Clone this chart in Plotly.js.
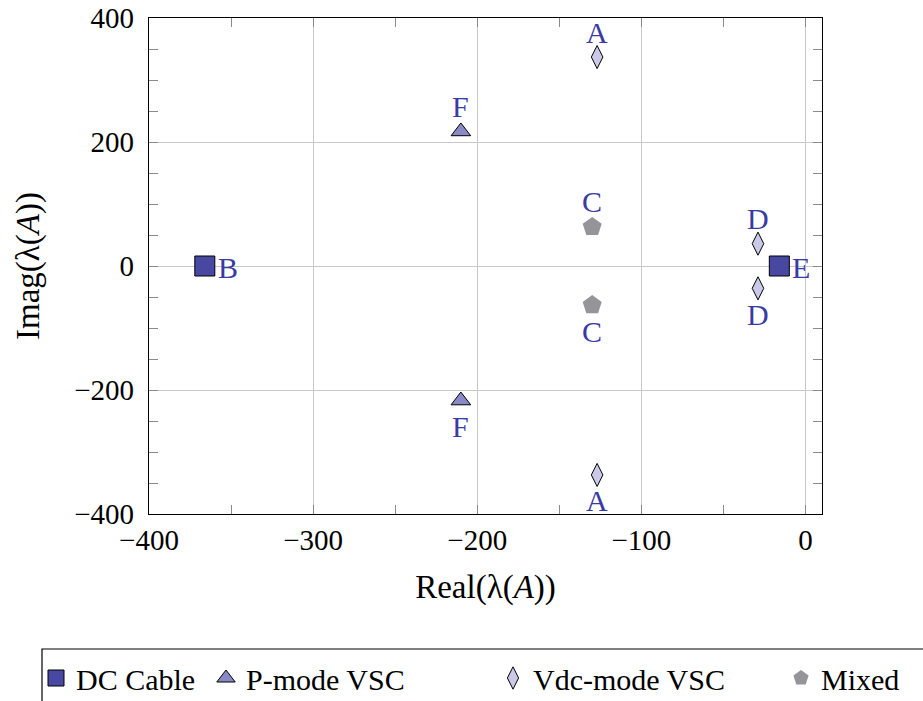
<!DOCTYPE html>
<html>
<head>
<meta charset="utf-8">
<script src="https://cdn.plot.ly/plotly-3.0.1.min.js"></script>
<style>html,body{margin:0;padding:0;background:#fff;}#chart{width:923px;height:701px;}</style>
</head>
<body>
<div id="chart"></div>
<script>
// Eigenvalue data
var cableRe = [-366, -16];
var cableIm = [0, 0];
var cableLbl = ['B', 'E'];

var pmodeRe = [-210, -210];
var pmodeIm = [217, -217];
var pmodeLbl = ['F', 'F'];

var vdcRe = [-127, -127, -29, -29];
var vdcIm = [337, -337, 36, -36];
var vdcLbl = ['A', 'A', 'D', 'D'];

var mixedRe = [-130, -130];
var mixedIm = [63, -63];
var mixedLbl = ['C', 'C'];

var seriesNames = ['DC Cable', 'P-mode VSC', 'Vdc-mode VSC', 'Mixed'];
var xTicks = [-400, -300, -200, -100, 0];
var yTicks = [-400, -200, 0, 200, 400];

var FONT = '"Liberation Serif", "DejaVu Serif", serif';
var LBL = '#3a3aa6';

var traces = [
  {x: cableRe, y: cableIm, mode: 'markers', type: 'scatter', name: seriesNames[0], legend: 'legend',
   marker: {symbol: 'square', size: 20, color: '#4848a2', line: {color: '#000', width: 1}}},
  {x: pmodeRe, y: pmodeIm, mode: 'markers', type: 'scatter', name: seriesNames[1], legend: 'legend2',
   marker: {symbol: 'triangle-up', size: 17, color: '#8989c6', line: {color: '#000', width: 1}}},
  {x: vdcRe, y: vdcIm, mode: 'markers', type: 'scatter', name: seriesNames[2], legend: 'legend3',
   marker: {symbol: 'diamond-tall', size: 16.5, color: '#cacae8', line: {color: '#000', width: 1}}},
  {x: mixedRe, y: mixedIm, mode: 'markers', type: 'scatter', name: seriesNames[3], legend: 'legend4',
   marker: {symbol: 'pentagon', size: 20, color: '#959599', line: {width: 0}}}
];

// point labels as annotations attached to the data points
var annotations = [];
function addLabels(xs, ys, ts, side) {
  for (var i = 0; i < xs.length; i++) {
    var a = {x: xs[i], y: ys[i], xref: 'x', yref: 'y', text: ts[i], showarrow: false,
      font: {family: FONT, size: 30, color: LBL}};
    if (side === 'right') {
      a.xanchor = 'left'; a.yanchor = 'middle'; a.xshift = 11; a.yshift = -1;
    } else {
      a.xanchor = 'center'; a.yanchor = 'middle';
      a.yshift = ys[i] >= 0 ? 25 : -26;
    }
    annotations.push(a);
  }
}
addLabels(cableRe, cableIm, cableLbl, 'right');
addLabels(pmodeRe, pmodeIm, pmodeLbl, 'vert');
addLabels(vdcRe, vdcIm, vdcLbl, 'vert');
addLabels(mixedRe, mixedIm, mixedLbl, 'vert');

function minus(v) { return v < 0 ? '\u2212' + Math.abs(v) : String(v); }

var axisCommon = {
  showline: true, linecolor: '#000', linewidth: 1.2, mirror: 'ticks',
  showgrid: true, gridcolor: '#c8c8c8', gridwidth: 1,
  zeroline: false,
  ticks: 'inside', ticklen: 9, tickcolor: '#8a8a8a', tickwidth: 1,
  minor: {dtick: 50, ticks: 'inside', ticklen: 9, tickcolor: '#8a8a8a', tickwidth: 1, showgrid: false},
  tickfont: {family: FONT, size: 29, color: '#000'}
};

var legendBase = {
  orientation: 'h', xanchor: 'left', y: (514 - 678) / 496, yanchor: 'middle',
  font: {family: FONT, size: 30, color: '#000'},
  bgcolor: 'rgba(0,0,0,0)', borderwidth: 0, itemwidth: 30
};
function leg(px) { return Object.assign({}, legendBase, {x: (px - 20 - 149) / 673}); }

var layout = {
  width: 923, height: 701,
  margin: {l: 149, r: 101, t: 18, b: 187, autoexpand: false},
  paper_bgcolor: '#fff', plot_bgcolor: '#fff',
  font: {family: FONT, size: 29, color: '#000'},
  xaxis: Object.assign({}, axisCommon, {
    range: [-400, 10], tickmode: 'array', tickvals: xTicks, ticktext: xTicks.map(minus),
    ticklabelstandoff: 0,
    title: {text: 'Real(\u03bb(<i>A</i>))', font: {family: FONT, size: 33}, standoff: 19}
  }),
  yaxis: Object.assign({}, axisCommon, {
    range: [-400, 400], tickmode: 'array', tickvals: yTicks, ticktext: yTicks.map(minus),
    ticklabelstandoff: 8,
    title: {text: 'Imag(\u03bb(<i>A</i>))', font: {family: FONT, size: 33}, standoff: 24}
  }),
  showlegend: true,
  legend: leg(56),
  legend2: leg(226),
  legend3: leg(513),
  legend4: leg(801),
  annotations: annotations,
  shapes: [{
    type: 'rect', xref: 'paper', yref: 'paper',
    x0: (42 - 149) / 673, x1: (940 - 149) / 673,
    y0: (514 - 649) / 496, y1: (514 - 705) / 496,
    line: {color: '#000', width: 1.2}, fillcolor: 'rgba(0,0,0,0)', layer: 'above'
  }]
};

Plotly.newPlot('chart', traces, layout, {displayModeBar: false, staticPlot: true});
</script>
</body>
</html>
